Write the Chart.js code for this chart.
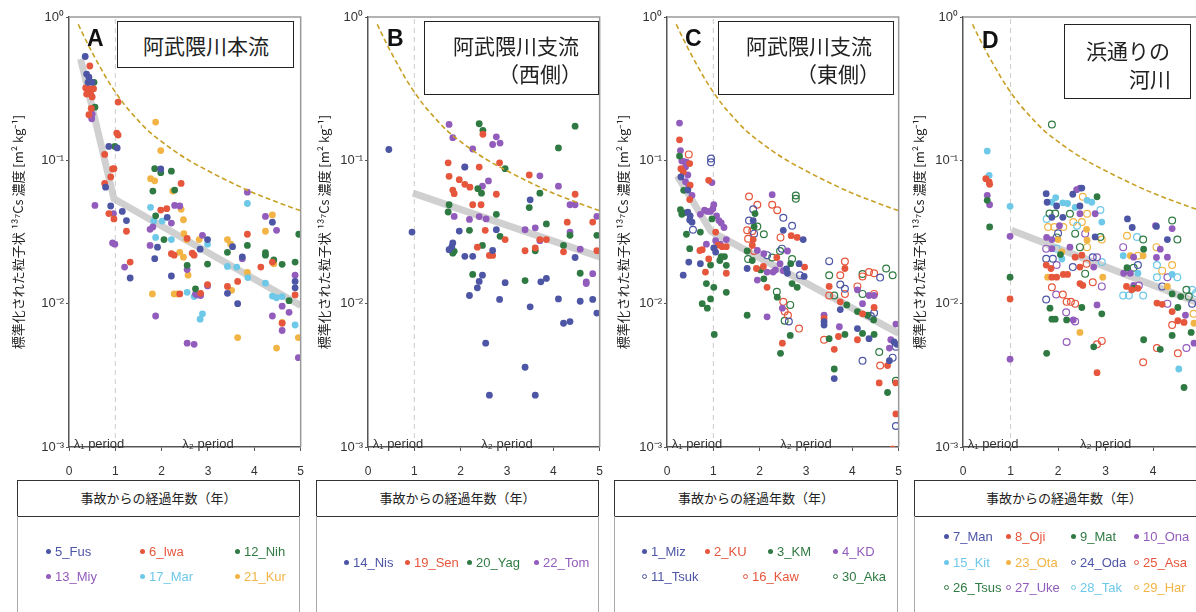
<!DOCTYPE html>
<html lang="ja">
<head>
<meta charset="utf-8">
<title>粒子状137Cs濃度</title>
<script src="https://cdn.jsdelivr.net/npm/chart.js@4.4.1/dist/chart.umd.min.js"></script>
<style>
    html, body { margin: 0; padding: 0; background: #fff; }
    #wrap { position: relative; width: 1196px; height: 612px; overflow: hidden; font-family: "Noto Sans CJK JP", sans-serif; }
    #wrap canvas { position: absolute; top: 0; }
    .letter { position: absolute; font: bold 23px "Liberation Sans", Arial, sans-serif; color: #111; line-height: 23px; }
    .tbox { position: absolute; border: 1.5px solid #222; background: #fff; box-sizing: border-box; }
    .tbox span { position: absolute; font-size: 21px; line-height: 21px; color: #222; white-space: pre; }
    .xbox { position: absolute; top: 480px; height: 37px; border: 1.5px solid #333; box-sizing: border-box; background: #fff; text-align: center; font-size: 13px; line-height: 34px; color: #222; }
    .lbox { position: absolute; top: 516px; height: 110px; border: 1.5px solid #aaa; border-top: none; box-sizing: border-box; }
    .leg { position: absolute; font: 13px "Liberation Sans", Arial, sans-serif; white-space: nowrap; line-height: 14px; }
    .leg i { display: inline-block; width: 5px; height: 5px; border-radius: 50%; margin-right: 4px; vertical-align: middle; position: relative; top: -1px; box-sizing: border-box; }
</style>
</head>
<body>
<div id="wrap"></div>
<script>
// 軸・ラベル
const xTicks = [0, 1, 2, 3, 4, 5];
const yTicks = [1, 0.1, 0.01, 0.001];
const yTickLabels = ["10⁰", "10⁻¹", "10⁻²", "10⁻³"];
const periodLabels = ["λ₁ period", "λ₂ period"];
const panelLetters = ["A", "B", "C", "D"];
const panelTitles = [["阿武隈川本流"], ["阿武隈川支流", "（西側）"], ["阿武隈川支流", "（東側）"], ["浜通りの", "河川"]];
const xTitle = "事故からの経過年数（年）";
const yTitle = "標準化された粒子状 ¹³⁷Cs 濃度 [m² kg⁻¹]";

// 上限の破線カーブ
const boundX = [0.2, 0.3, 0.4, 0.5, 0.6, 0.7, 0.8, 0.9, 1.0, 1.2, 1.4, 1.7, 2.0, 2.5, 3.0, 3.5, 4.0, 4.5, 5.0];
const boundY = [0.89, 0.76, 0.653, 0.565, 0.492, 0.431, 0.378, 0.335, 0.299, 0.244, 0.205, 0.162, 0.135, 0.104, 0.0845, 0.07, 0.059, 0.051, 0.0445];

// 回帰線
const fitAx = [0.25, 0.97, 5], fitAy = [0.51, 0.054, 0.0097];
const fitBx = [0.97, 5], fitBy = [0.059, 0.0212];
const fitCx = [0.22, 0.95, 5], fitCy = [0.078, 0.032, 0.0062];
const fitDx = [1.02, 5], fitDy = [0.0325, 0.01];

// A 阿武隈川本流
const namesA = ["5_Fus", "6_Iwa", "12_Nih", "13_Miy", "17_Mar", "21_Kur"];
const fus = [[0.35,0.53],[0.38,0.40],[0.43,0.38],[0.41,0.35],[0.50,0.35],[0.86,0.125],[1.04,0.122],[0.79,0.065],[0.9,0.048],[1.15,0.044],[1.24,0.038],[1.32,0.0151],[1.98,0.087],[2.12,0.040],[1.91,0.0248],[2.99,0.028],[1.85,0.0206],[2.83,0.024],[2.21,0.0156],[3.53,0.025],[3.74,0.0212],[4.39,0.037],[4.88,0.0143],[3.42,0.0118],[4.88,0.0129],[3.64,0.010]];
const iwa = [[0.45,0.455],[0.36,0.32],[0.43,0.316],[0.53,0.316],[0.38,0.29],[0.47,0.29],[0.50,0.277],[0.48,0.23],[0.43,0.208],[1.06,0.255],[1.06,0.15],[1.03,0.155],[0.77,0.11],[0.97,0.0875],[0.94,0.087],[0.9,0.0765],[0.77,0.069],[0.86,0.0425],[0.97,0.039],[1.24,0.032],[1.32,0.0195],[2.42,0.069],[1.98,0.045],[2.11,0.046],[2.55,0.0285],[2.21,0.0223],[2.27,0.0218],[2.66,0.0225],[2.7,0.0218],[2.99,0.0136],[2.84,0.0118],[2.39,0.0117],[3.85,0.0305],[4.39,0.0195],[4.14,0.018],[3.64,0.0143],[3.42,0.0132],[4.88,0.0115],[4.6,0.0073]];
const nih = [[0.54,0.35],[0.56,0.235],[0.99,0.125],[1.85,0.0875],[1.98,0.082],[2.21,0.084],[1.81,0.061],[2.28,0.062],[1.87,0.041],[2.05,0.028],[2.55,0.0185],[2.99,0.0189],[2.73,0.0127],[4.96,0.0305],[3.85,0.0255],[3.42,0.0228],[4.24,0.0227],[4.24,0.0218],[4.42,0.0202],[4.6,0.0188],[4.88,0.0195],[4.75,0.0105]];
const miy = [[0.50,0.21],[0.49,0.195],[0.56,0.0485],[0.96,0.0425],[0.94,0.0265],[0.99,0.026],[1.2,0.018],[2.28,0.0485],[2.39,0.048],[2.21,0.0365],[1.81,0.0343],[1.75,0.033],[1.75,0.0255],[2.55,0.0173],[2.99,0.0133],[2.73,0.0117],[2.84,0.0114],[2.77,0.0115],[1.87,0.0082],[2.55,0.0053],[2.7,0.0052],[3.85,0.060],[4.24,0.0406],[4.48,0.0325],[3.74,0.0206],[4.88,0.0158],[4.6,0.0096],[4.75,0.0087],[4.39,0.0082],[4.6,0.0065],[4.95,0.0042],[2.88,0.030]];
const mar = [[1.76,0.047],[1.83,0.0377],[2.01,0.0377],[1.87,0.029],[2.21,0.028],[2.99,0.026],[2.55,0.012],[2.7,0.0112],[2.88,0.0085],[2.83,0.0078],[3.85,0.050],[3.42,0.0182],[3.62,0.018],[4.24,0.0139],[3.86,0.0152],[4.39,0.0113],[4.48,0.011],[4.6,0.0112],[4.88,0.0071]];
const kur = [[1.87,0.185],[1.98,0.117],[1.76,0.0745],[1.85,0.072],[2.24,0.061],[2.42,0.0455],[2.47,0.0385],[2.48,0.0308],[2.54,0.028],[2.81,0.028],[2.39,0.0228],[2.47,0.0211],[2.57,0.0158],[1.8,0.0117],[2.27,0.0117],[2.34,0.0117],[4.39,0.0416],[4.24,0.032],[3.42,0.028],[3.49,0.026],[4.42,0.019],[3.85,0.0165],[3.51,0.0124],[4.6,0.0074],[3.64,0.0058],[4.95,0.0058],[4.48,0.0049]];

// B 阿武隈川支流（西側）
const namesB = ["14_Nis", "19_Sen", "20_Yag", "22_Tom"];
const nis = [[0.45,0.119],[0.95,0.0316],[2.09,0.0898],[3.5,0.053],[1.97,0.0321],[2.77,0.0328],[1.83,0.0265],[1.81,0.025],[1.75,0.0238],[2.69,0.0235],[2.09,0.0214],[2.26,0.0214],[4.47,0.021],[2.47,0.0158],[2.4,0.0143],[2.96,0.014],[3.73,0.0142],[3.85,0.015],[2.36,0.0129],[2.19,0.0114],[2.84,0.0107],[3.5,0.0095],[4.11,0.0108],[4.58,0.0104],[4.85,0.0107],[4.94,0.0086],[4.22,0.0073],[4.36,0.0075],[2.54,0.0053],[3.39,0.0036],[2.62,0.0023],[3.61,0.0023]];
const sen = [[2.48,0.152],[1.73,0.096],[2.4,0.0898],[2.84,0.096],[1.75,0.0773],[1.97,0.0733],[2.09,0.068],[2.2,0.065],[1.83,0.062],[1.86,0.0585],[2.77,0.058],[3.48,0.079],[4.47,0.058],[4.85,0.0371],[2.26,0.049],[2.44,0.049],[2.53,0.0325],[2.96,0.028],[3.71,0.028],[2.36,0.0248],[2.62,0.0217],[2.69,0.0217],[3.39,0.0234],[3.61,0.0245],[4.22,0.023],[4.94,0.0234],[3.85,0.028],[4.3,0.037]];
const yag = [[2.4,0.18],[2.48,0.162],[4.11,0.122],[4.47,0.173],[2.96,0.0875],[2.37,0.0634],[2.45,0.059],[3.71,0.059],[3.48,0.0468],[1.75,0.049],[1.73,0.0436],[2.77,0.042],[2.19,0.0325],[3.85,0.036],[2.85,0.0295],[4.36,0.03],[4.94,0.03],[1.86,0.0232],[1.83,0.0225],[2.47,0.0255],[3.61,0.0234],[4.22,0.0255],[2.26,0.016],[3.39,0.0145],[4.58,0.0163]];
const tom = [[1.75,0.178],[1.83,0.144],[2.77,0.146],[2.69,0.129],[2.85,0.132],[2.26,0.12],[2.09,0.09],[2.6,0.0718],[2.47,0.066],[3.71,0.078],[4.11,0.066],[4.36,0.049],[4.47,0.049],[4.94,0.0406],[1.86,0.0406],[2.19,0.0387],[2.4,0.0405],[2.55,0.039],[3.39,0.0328],[3.61,0.0338],[4.36,0.0316],[4.58,0.024],[4.71,0.0142],[4.71,0.0138],[4.85,0.0162],[3.71,0.0275]];

// C 阿武隈川支流（東側）
const namesC = ["1_Miz", "2_KU", "3_KM", "4_KD", "11_Tsuk", "16_Kaw", "30_Aka"];
const miz = [[0.3,0.0765],[0.45,0.062],[0.45,0.0435],[0.5,0.041],[0.49,0.0384],[0.54,0.037],[0.47,0.0195],[0.35,0.0158],[0.72,0.019],[1.01,0.0245],[1.05,0.0229],[1.73,0.0176],[2.51,0.0325],[2.94,0.028],[2.58,0.0175],[2.85,0.019],[2.6,0.0163],[2.96,0.0155],[3.74,0.0091],[3.39,0.0075],[3.39,0.0071],[3.61,0.003],[4.11,0.0067],[4.36,0.0057],[4.9,0.0054],[4.96,0.0052],[4.8,0.004],[1.86,0.038]];
const ku = [[0.27,0.139],[0.49,0.095],[0.3,0.0875],[0.35,0.083],[0.5,0.067],[0.49,0.0532],[0.9,0.0725],[1.05,0.0316],[0.76,0.0238],[0.71,0.0235],[1.1,0.0256],[1.19,0.025],[1.28,0.025],[0.9,0.0205],[0.83,0.0166],[1.28,0.0163],[1.86,0.028],[1.84,0.0256],[2.08,0.0182],[1.93,0.0176],[2.16,0.013],[2.68,0.0298],[2.81,0.029],[2.37,0.021],[2.97,0.018],[2.49,0.0053],[3.84,0.0176],[3.5,0.0132],[3.74,0.0103],[3.39,0.0079],[3.7,0.0059],[3.61,0.0048],[4.22,0.0085],[4.47,0.0094],[4.11,0.0056],[4.76,0.0037],[4.58,0.0028],[4.94,0.0028],[4.94,0.0017],[4.87,0.00097]];
const km = [[0.27,0.107],[0.36,0.0618],[0.29,0.0453],[0.37,0.043],[0.32,0.042],[0.42,0.0305],[0.49,0.0242],[0.97,0.039],[0.72,0.0316],[1.17,0.0213],[1.24,0.0213],[1.14,0.02],[0.94,0.0186],[1.28,0.0185],[0.85,0.0138],[1.01,0.013],[1.28,0.012],[0.76,0.01],[0.87,0.0093],[0.94,0.0108],[1.02,0.0061],[1.9,0.0425],[1.88,0.0345],[1.73,0.0233],[1.84,0.02],[2.02,0.0172],[2.09,0.0149],[1.73,0.0083],[2.67,0.019],[2.7,0.0138],[2.81,0.013],[2.38,0.0111],[2.66,0.006],[2.45,0.0045],[3.88,0.0098],[3.84,0.0061],[3.5,0.0057],[3.61,0.0035],[4.11,0.0088],[4.33,0.0083],[4.46,0.0077],[4.22,0.0062],[4.47,0.0061],[4.76,0.0024]];
const kd = [[0.27,0.182],[0.29,0.117],[0.32,0.099],[0.37,0.098],[0.42,0.097],[0.4,0.09],[0.45,0.079],[0.4,0.071],[0.47,0.067],[0.54,0.057],[0.97,0.07],[0.72,0.042],[0.81,0.045],[0.87,0.044],[0.94,0.044],[0.99,0.046],[1.01,0.049],[1.07,0.041],[1.12,0.038],[1.17,0.0366],[1.23,0.034],[0.85,0.026],[1.05,0.0275],[1.15,0.026],[1.28,0.028],[1.95,0.0235],[2.09,0.0223],[2.16,0.0166],[2.29,0.0166],[1.95,0.0146],[2.27,0.0576],[2.6,0.0233],[2.44,0.019],[2.34,0.0172],[2.51,0.017],[2.49,0.0093],[2.16,0.0081],[3.39,0.0083],[3.72,0.0069],[4.11,0.0125],[4.47,0.0114],[4.36,0.0114],[4.22,0.01],[4.94,0.0072],[4.83,0.0056],[4.8,0.0049]];
const tsuk = [[0.95,0.103],[0.95,0.097],[0.56,0.0328],[1.86,0.0455],[1.77,0.038],[1.88,0.0308],[2.16,0.0218],[2.51,0.0398],[2.48,0.0242],[2.87,0.0158],[2.63,0.0075],[3.5,0.0198],[3.74,0.0136],[3.84,0.0127],[4.6,0.0152],[4.47,0.0086],[4.4,0.0082],[4.22,0.004],[4.87,0.0042],[4.94,0.005],[4.94,0.0014],[2.7,0.035]];
const kaw = [[0.47,0.11],[1.77,0.056],[1.95,0.049],[1.73,0.0325],[1.84,0.032],[1.75,0.0284],[1.88,0.0233],[2.27,0.049],[2.38,0.0448],[2.45,0.029],[2.54,0.0088],[2.61,0.0083],[2.85,0.0067],[3.84,0.0197],[3.74,0.0158],[3.5,0.0114],[3.84,0.0117],[3.39,0.0056],[4.36,0.0166],[4.47,0.0163],[4.22,0.0155],[4.11,0.0132],[4.47,0.0117],[4.6,0.0037],[2.51,0.0103]];
const aka = [[1.95,0.0345],[2.09,0.0305],[2.27,0.021],[1.75,0.0205],[2.78,0.0569],[2.78,0.054],[2.44,0.0233],[2.7,0.0205],[2.37,0.0121],[2.54,0.0076],[3.5,0.0158],[3.61,0.0114],[4.22,0.0161],[4.73,0.0176],[4.87,0.0158],[4.22,0.0117],[4.58,0.0046],[4.94,0.0029],[2.66,0.0098]];

// D 浜通りの河川
const namesD = ["7_Man", "8_Oji", "9_Mat", "10_Ona", "15_Kit", "23_Ota", "24_Oda", "25_Asa", "26_Tsus", "27_Uke", "28_Tak", "29_Har"];
const man = [[1.75,0.0585],[1.77,0.051],[1.87,0.04],[1.97,0.048],[2.1,0.04],[2.31,0.058],[2.46,0.048],[2.78,0.0292],[2.5,0.064],[3.46,0.039],[3.56,0.034],[4.07,0.0346],[4.3,0.028]];
const oji = [[0.48,0.0745],[0.55,0.0707],[0.56,0.068],[0.99,0.0108],[1.75,0.0186],[1.85,0.0176],[1.87,0.0153],[1.97,0.0153],[2.11,0.016],[2.36,0.0211],[2.5,0.0218],[2.46,0.018],[2.46,0.0138],[2.52,0.0134],[2.82,0.0033],[3.44,0.0132],[3.68,0.0128],[4.08,0.0101],[4.19,0.0099],[4.4,0.0088],[4.52,0.0076],[4.65,0.0074],[2.2,0.016],[3.55,0.0125]];
const mat = [[0.51,0.0526],[0.56,0.0343],[0.99,0.0153],[1.83,0.0093],[1.87,0.0078],[1.94,0.0078],[1.76,0.0045],[2.5,0.0094],[2.92,0.0085],[2.18,0.0077],[2.75,0.005],[2.82,0.0557],[3.45,0.0178],[3.59,0.0128],[3.8,0.0056],[4.4,0.0117],[4.52,0.0094],[4.4,0.006],[4.15,0.0048],[4.65,0.0026],[4.58,0.0112],[4.8,0.0063],[2.05,0.022],[3.8,0.024]];
const ona = [[0.51,0.057],[0.56,0.049],[0.99,0.0295],[0.99,0.0041],[2.03,0.035],[1.76,0.029],[1.87,0.028],[1.87,0.0242],[2.39,0.0624],[2.46,0.064],[2.46,0.0424],[2.78,0.0424],[2.25,0.0248],[2.75,0.018],[2.82,0.0098],[2.32,0.0077],[3.59,0.0211],[3.38,0.0163],[3.52,0.0163],[3.59,0.0134],[4.05,0.035],[4.4,0.0334],[4.15,0.024],[4.3,0.0211],[4.07,0.021],[4.68,0.0083],[4.86,0.0053],[4.99,0.0055]];
const kit = [[0.51,0.116],[0.55,0.0786],[0.99,0.0478],[1.87,0.051],[2.1,0.0505],[2.08,0.0205],[2.36,0.047],[2.61,0.0526],[2.71,0.051],[2.92,0.0371],[3.37,0.0216],[3.68,0.0163],[4.4,0.016],[4.54,0.0035],[1.95,0.055],[2.2,0.05]];
const ota = [[2.08,0.023],[1.78,0.0153],[2.61,0.0277],[2.46,0.0063],[2.94,0.0153],[3.52,0.0216],[3.79,0.0216],[4.3,0.0132],[4.86,0.0073],[2.0,0.028],[2.6,0.033]];
const oda = [[1.75,0.0206],[1.89,0.0206],[1.75,0.0107],[2.31,0.018],[2.73,0.0211],[3.68,0.0186],[4.19,0.0132],[4.82,0.01],[2.0,0.031]];
const asa = [[1.87,0.013],[2.1,0.0116],[2.18,0.0103],[2.27,0.0103],[2.36,0.01],[2.73,0.0141],[2.82,0.0052],[2.92,0.0055],[3.79,0.0039],[4.4,0.0071],[4.08,0.0049],[4.52,0.0045],[2.6,0.019]];
const tsus = [[1.87,0.178],[1.82,0.0425],[1.94,0.0425],[1.97,0.029],[2.25,0.0424],[2.36,0.0308],[2.89,0.0292],[2.46,0.0248],[2.57,0.0162],[3.79,0.028],[3.59,0.0178],[4.4,0.038],[4.51,0.028],[4.7,0.0125],[4.75,0.0112]];
const uke = [[1.75,0.0242],[1.97,0.0186],[1.96,0.0116],[2.17,0.0087],[2.36,0.0075],[2.18,0.0054],[2.57,0.0308],[2.82,0.0211],[2.92,0.0132],[3.37,0.0248],[3.7,0.0134],[4.3,0.0153],[4.3,0.01],[4.7,0.0049]];
const tak = [[1.76,0.039],[1.97,0.0242],[2.89,0.045],[2.92,0.0195],[3.66,0.0292],[3.37,0.0114],[3.49,0.0114],[3.79,0.0114],[4.08,0.0186],[4.08,0.0153],[4.51,0.0153],[4.82,0.0125],[4.9,0.0118],[2.4,0.035]];
const har = [[1.79,0.0343],[1.92,0.0343],[2.11,0.0343],[2.52,0.0557],[2.61,0.0424],[2.32,0.0371],[2.5,0.0371],[2.92,0.028],[2.61,0.0248],[3.45,0.0298],[3.68,0.0216],[4.07,0.0248],[4.4,0.0186],[4.19,0.017],[4.85,0.0085]];

// 色
const blue = "#4d55a5", red = "#e6563c", green = "#2f7a42", purple = "#925cbc", sky = "#6ec8e8", amber = "#f2b445";

function series(names, list) {
    return list.map((s, i) => ({ name: names[i], pts: s[0], color: s[1], open: s[2] }));
}

const panels = [
    {
        left: 0, yWidth: 69, plotW: 231, titlePad: 10,
        series: series(namesA, [[fus, blue, false], [iwa, red, false], [nih, green, false], [miy, purple, false], [mar, sky, false], [kur, amber, false]]),
        fit: [fitAx, fitAy],
        letterPos: [87, 27],
        tbox: { left: 117, top: 21, w: 177, h: 47, lines: [[25, 13]] },
        xbox: [17, 283],
        legendPos: [[46, 552], [140, 552], [235, 552], [46, 577], [140, 577], [235, 577]]
    },
    {
        left: 310, yWidth: 58, plotW: 231, titlePad: 6,
        series: series(namesB, [[nis, blue, false], [sen, red, false], [yag, green, false], [tom, purple, false]]),
        fit: [fitBx, fitBy],
        letterPos: [387, 27],
        tbox: { left: 424, top: 21, w: 175, h: 74, lines: [[28, 13], [73, 41]] },
        xbox: [316, 283],
        legendPos: [[344, 563], [405, 563], [467, 563], [534, 563]]
    },
    {
        left: 609, yWidth: 58, plotW: 231, titlePad: 6,
        series: series(namesC, [[miz, blue, false], [ku, red, false], [km, green, false], [kd, purple, false], [tsuk, blue, true], [kaw, red, true], [aka, green, true]]),
        fit: [fitCx, fitCy],
        letterPos: [685, 27],
        tbox: { left: 718, top: 21, w: 176, h: 74, lines: [[27, 13], [77, 41]] },
        xbox: [614, 284],
        legendPos: [[642, 552], [705, 552], [768, 552], [833, 552], [642, 577], [743, 577], [833, 577]]
    },
    {
        left: 905, yWidth: 58, plotW: 237, titlePad: 6,
        series: series(namesD, [[man, blue, false], [oji, red, false], [mat, green, false], [ona, purple, false], [kit, sky, false], [ota, amber, false],
                                [oda, blue, true], [asa, red, true], [tsus, green, true], [uke, purple, true], [tak, sky, true], [har, amber, true]]),
        fit: [fitDx, fitDy],
        letterPos: [982, 29],
        tbox: { left: 1064, top: 24, w: 127, h: 75, lines: [[21, 15], [64, 43]] },
        xbox: [914, 300],
        legendPos: [[944, 537], [1006, 537], [1071, 537], [1134, 537], [944, 563], [1006, 563], [1071, 563], [1134, 563], [944, 588], [1006, 588], [1071, 588], [1134, 588]]
    }
];

const zip = (xs, ys) => xs.map((x, i) => ({ x: x, y: ys[i] }));
const toXY = (arr) => arr.map((p) => ({ x: p[0], y: p[1] }));

// 枠線とλラベル
const framePlugin = {
    id: "frame",
    afterDraw(chart) {
        const { ctx, chartArea, scales } = chart;
        ctx.save();
        ctx.strokeStyle = "#9a9a9a";
        ctx.lineWidth = 1.5;
        ctx.beginPath();
        ctx.moveTo(chartArea.left, chartArea.top);
        ctx.lineTo(chartArea.right, chartArea.top);
        ctx.lineTo(chartArea.right, chartArea.bottom);
        ctx.stroke();

        ctx.fillStyle = "#333";
        ctx.font = '13px "Liberation Sans", Arial, sans-serif';
        ctx.textBaseline = "middle";
        ctx.textAlign = "left";
        ctx.fillText(periodLabels[0], scales.x.getPixelForValue(0.1), chartArea.bottom - 3);
        ctx.textAlign = "center";
        ctx.fillText(periodLabels[1], scales.x.getPixelForValue(3), chartArea.bottom - 3);
        ctx.restore();
    }
};

const wrap = document.getElementById("wrap");

panels.forEach((p, k) => {
    const canvas = document.createElement("canvas");
    // 右側は x 目盛ラベルの余白ぶん広げる
    const w = p.yWidth + p.plotW + 17;
    const h = 482;
    canvas.width = w;
    canvas.height = h;
    canvas.style.left = p.left + "px";
    canvas.style.width = w + "px";
    canvas.style.height = h + "px";
    wrap.appendChild(canvas);

    const datasets = [];
    datasets.push({
        type: "line", data: [{ x: 1, y: 0.001 }, { x: 1, y: 1 }], showLine: true,
        borderColor: "#cccccc", borderWidth: 1, borderDash: [5, 4], pointRadius: 0, order: 40
    });
    datasets.push({
        type: "line", data: zip(p.fit[0], p.fit[1]), showLine: true,
        borderColor: "rgba(200,200,200,0.85)", borderWidth: 7, pointRadius: 0, order: 30
    });
    p.series.forEach((s) => {
        datasets.push({
            type: "scatter", label: s.name, data: toXY(s.pts),
            pointRadius: 3.4, pointStyle: "circle",
            backgroundColor: s.open ? "rgba(255,255,255,0)" : s.color,
            borderColor: s.color, borderWidth: s.open ? 1.2 : 0, order: 10
        });
    });
    datasets.push({
        type: "line", data: zip(boundX, boundY), showLine: true,
        borderColor: "#c9a026", borderWidth: 1.6, borderDash: [5, 3], pointRadius: 0,
        cubicInterpolationMode: "monotone", order: 0
    });

    new Chart(canvas, {
        type: "scatter",
        data: { datasets: datasets },
        options: {
            responsive: false,
            animation: false,
            events: [],
            layout: { padding: { top: 17, right: 0, left: 0, bottom: 0 } },
            plugins: { legend: { display: false }, tooltip: { enabled: false } },
            scales: {
                x: {
                    type: "linear", min: 0, max: 5,
                    afterBuildTicks: (s) => { s.ticks = xTicks.map((v) => ({ value: v })); },
                    afterFit: (s) => { s.height = 35; },
                    ticks: { padding: 13, color: "#333", font: { size: 12, family: '"Liberation Sans", Arial, sans-serif' } },
                    grid: { display: true, drawOnChartArea: false, drawTicks: true, tickLength: 4, color: "#555" },
                    border: { display: true, color: "#555", width: 1.5 }
                },
                y: {
                    type: "logarithmic", min: 0.001, max: 1,
                    afterBuildTicks: (s) => { s.ticks = yTicks.map((v) => ({ value: v })); },
                    afterFit: (s) => { s.width = p.yWidth; },
                    ticks: {
                        padding: 2, color: "#333", font: { size: 13, family: '"Liberation Sans", Arial, sans-serif' },
                        callback: (v) => { const i = yTicks.indexOf(v); return i >= 0 ? yTickLabels[i] : ""; }
                    },
                    grid: { display: true, drawOnChartArea: false, drawTicks: true, tickLength: 3, color: "#555" },
                    border: { display: true, color: "#555", width: 1.5 },
                    title: {
                        display: true, text: yTitle, color: "#222",
                        font: { size: 13, family: '"Noto Sans CJK JP", sans-serif' },
                        padding: { top: p.titlePad, bottom: 0 }
                    }
                }
            }
        },
        plugins: [framePlugin]
    });

    // パネル記号
    const letter = document.createElement("div");
    letter.className = "letter";
    letter.textContent = panelLetters[k];
    letter.style.left = p.letterPos[0] + "px";
    letter.style.top = p.letterPos[1] + "px";
    wrap.appendChild(letter);

    // タイトル枠
    const tb = document.createElement("div");
    tb.className = "tbox";
    tb.style.left = p.tbox.left + "px";
    tb.style.top = p.tbox.top + "px";
    tb.style.width = p.tbox.w + "px";
    tb.style.height = p.tbox.h + "px";
    panelTitles[k].forEach((t, j) => {
        const sp = document.createElement("span");
        sp.textContent = t;
        sp.style.left = p.tbox.lines[j][0] + "px";
        sp.style.top = p.tbox.lines[j][1] + "px";
        tb.appendChild(sp);
    });
    wrap.appendChild(tb);

    // x軸タイトル枠
    const xb = document.createElement("div");
    xb.className = "xbox";
    xb.style.left = p.xbox[0] + "px";
    xb.style.width = p.xbox[1] + "px";
    xb.textContent = xTitle;
    wrap.appendChild(xb);

    // 凡例
    const lb = document.createElement("div");
    lb.className = "lbox";
    lb.style.left = p.xbox[0] + "px";
    lb.style.width = p.xbox[1] + "px";
    wrap.appendChild(lb);

    p.series.forEach((s, i) => {
        const item = document.createElement("div");
        item.className = "leg";
        item.style.left = p.legendPos[i][0] + "px";
        item.style.top = (p.legendPos[i][1] - 7) + "px";
        item.style.color = s.color;
        const dot = document.createElement("i");
        if (s.open) {
            dot.style.border = "1px solid " + s.color;
        } else {
            dot.style.background = s.color;
        }
        item.appendChild(dot);
        item.appendChild(document.createTextNode(s.name));
        wrap.appendChild(item);
    });
});
</script>
</body>
</html>
